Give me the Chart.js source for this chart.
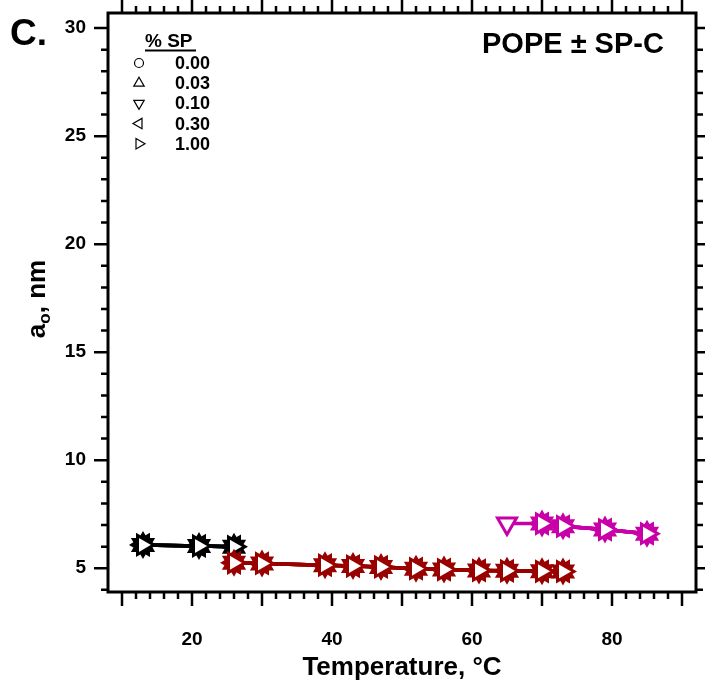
<!DOCTYPE html>
<html>
<head>
<meta charset="utf-8">
<script src="https://cdn.jsdelivr.net/npm/chart.js@4.4.0/dist/chart.umd.min.js"></script>
<style>
  html, body { margin: 0; padding: 0; background: #fff; }
  #wrap { width: 705px; height: 687px; }
</style>
</head>
<body>
<div id="wrap"><canvas id="aoChart"></canvas></div>
<script>
// % SP-C levels and their markers
const spLevels = ['0.00', '0.03', '0.10', '0.30', '1.00'];
const spStyles = ['circle', 'triangle', 'triangle', 'triangle', 'triangle'];
const spRotations = [0, 0, 180, 270, 90];

// temperature (°C) vs a_o (nm), one pair per phase
const blackTemps = [13, 21, 26];
const blackA0 = [6.08, 6.03, 6.0];
const redTemps = [26, 30, 39, 43, 47, 52, 56, 61, 65, 70, 73];
const redA0 = [5.25, 5.22, 5.14, 5.1, 5.06, 4.98, 4.94, 4.9, 4.88, 4.86, 4.85];
const magentaTemps = [70, 73, 79, 85];
const magentaA0 = [7.07, 6.94, 6.79, 6.6];
// only the 0.10 % SP sample shows this point
const extraTemps = [65];
const extraA0 = [7.07];

const xTickLabels = [20, 40, 60, 80];
const yTickLabels = [5, 10, 15, 20, 25, 30];

const FONT = '"Liberation Sans", Arial, Helvetica, sans-serif';

const phases = [
    { temps: blackTemps, a0: blackA0, color: '#000000' },
    { temps: redTemps, a0: redA0, color: '#990000' },
    { temps: magentaTemps, a0: magentaA0, color: '#c800a8' }
];

const datasets = [];
phases.forEach((ph, p) => {
    spLevels.forEach((lvl, i) => {
        let pts = ph.temps.map((t, k) => ({ x: t, y: ph.a0[k], extra: false }));
        if (p === 2 && lvl === '0.10') {
            pts = extraTemps.map((t, k) => ({ x: t, y: extraA0[k], extra: true })).concat(pts);
        }
        const fill = pts.map(pt => (lvl === '1.00' || pt.extra) ? '#ffffff' : ph.color);
        datasets.push({
            label: lvl + ' % SP',
            data: pts,
            borderColor: ph.color,
            borderWidth: 3.5,
            pointStyle: spStyles[i],
            pointRotation: spRotations[i],
            pointRadius: spStyles[i] === 'circle' ? 7.5 : 11,
            pointBorderWidth: 3,
            pointBorderColor: ph.color,
            pointBackgroundColor: fill,
            order: (2 - p) * 10 + (spLevels.length - 1 - i)
        });
    });
});

// drop the auto padding chart.js adds for edge labels
function noPad(s) {
    s.paddingLeft = 0; s.paddingRight = 0; s.paddingTop = 0; s.paddingBottom = 0;
}

// frame, ticks and free text
const framePlugin = {
    id: 'frame',
    afterDraw(chart) {
        const { ctx, chartArea: a, scales } = chart;
        ctx.save();
        ctx.strokeStyle = '#000';
        ctx.lineWidth = 3;
        ctx.strokeRect(a.left, a.top, a.right - a.left, a.bottom - a.top);

        ctx.lineWidth = 2.5;
        ctx.beginPath();
        scales.x.ticks.forEach(t => {
            const v = t.value;
            if (v < 10 || v > 90) return;
            const len = v % 10 === 0 ? 14 : 7;
            const px = scales.x.getPixelForValue(v);
            ctx.moveTo(px, a.bottom); ctx.lineTo(px, a.bottom + len);
            ctx.moveTo(px, a.top); ctx.lineTo(px, a.top - len);
        });
        scales.y.ticks.forEach(t => {
            const v = t.value;
            if (v < 4 || v > 30 || !Number.isInteger(v)) return;
            const len = v % 5 === 0 ? 14 : 7;
            const py = scales.y.getPixelForValue(v);
            ctx.moveTo(a.left, py); ctx.lineTo(a.left - len, py);
            ctx.moveTo(a.right, py); ctx.lineTo(a.right + len, py);
        });
        ctx.stroke();

        ctx.fillStyle = '#000';
        ctx.textBaseline = 'alphabetic';
        ctx.textAlign = 'left';
        ctx.font = 'bold 37px ' + FONT;
        ctx.fillText('C.', 10, 45);
        ctx.font = 'bold 29px ' + FONT;
        ctx.fillText('POPE ± SP-C', 482, 53);

        // legend
        ctx.font = 'bold 19px ' + FONT;
        ctx.fillText('% SP', 145, 47);
        ctx.fillRect(145, 49.5, 51, 2);
        ctx.font = 'bold 18px ' + FONT;
        spLevels.forEach((lvl, i) => {
            const base = 69 + i * 20.2;
            ctx.fillStyle = '#000';
            ctx.fillText(lvl, 175, base);
            ctx.fillStyle = '#fff';
            ctx.strokeStyle = '#000';
            ctx.lineWidth = 1.2;
            Chart.helpers.drawPoint(ctx, {
                pointStyle: spStyles[i],
                rotation: spRotations[i],
                radius: spStyles[i] === 'circle' ? 4.5 : 6,
                borderWidth: 1.2
            }, 139, base - 6);
        });

        // y title with subscript
        ctx.fillStyle = '#000';
        ctx.translate(45, 299);
        ctx.rotate(-Math.PI / 2);
        const big = 'bold 26px ' + FONT, small = 'bold 17px ' + FONT;
        ctx.font = big; const wa = ctx.measureText('a').width;
        ctx.font = small; const wo = ctx.measureText('o').width;
        ctx.font = big; const wr = ctx.measureText(', nm').width;
        const x0 = -(wa + wo + wr) / 2;
        ctx.fillText('a', x0, 0);
        ctx.font = small;
        ctx.fillText('o', x0 + wa, 5);
        ctx.font = big;
        ctx.fillText(', nm', x0 + wa + wo, 0);
        ctx.restore();
    }
};

const noTicks = { display: false };
const ctx = document.getElementById('aoChart').getContext('2d');
new Chart(ctx, {
    type: 'line',
    data: { datasets: datasets },
    options: {
        responsive: true,
        maintainAspectRatio: false,
        animation: false,
        events: [],
        layout: { padding: 0, autoPadding: false },
        plugins: { legend: { display: false }, tooltip: { enabled: false } },
        scales: {
            x: {
                type: 'linear', position: 'bottom', min: 8, max: 92,
                grid: { display: false, drawTicks: true, tickLength: 14 },
                border: { display: false },
                ticks: {
                    stepSize: 2, autoSkip: false, maxRotation: 0, padding: 22,
                    includeBounds: false,
                    color: '#000', font: { family: FONT, size: 19, weight: 'bold' },
                    callback: v => xTickLabels.includes(v) ? v : ''
                },
                title: {
                    display: true, text: 'Temperature, °C', color: '#000',
                    font: { family: FONT, size: 26, weight: 'bold' },
                    padding: { top: 0, bottom: 4 }
                },
                afterFit: s => { s.height = 95; noPad(s); }
            },
            x2: {
                type: 'linear', position: 'top', min: 8, max: 92,
                grid: { display: false }, border: { display: false }, ticks: noTicks,
                afterFit: s => { s.height = 13; noPad(s); }
            },
            y: {
                type: 'linear', position: 'left', min: 3.9, max: 30.7,
                grid: { display: false, drawTicks: true, tickLength: 14 },
                border: { display: false },
                ticks: {
                    stepSize: 1, autoSkip: false, padding: 8,
                    includeBounds: false,
                    color: '#000', font: { family: FONT, size: 19, weight: 'bold' },
                    callback: v => yTickLabels.includes(v) ? v : ''
                },
                afterFit: s => { s.width = 108; noPad(s); }
            },
            y2: {
                type: 'linear', position: 'right', min: 3.9, max: 30.7,
                grid: { display: false }, border: { display: false }, ticks: noTicks,
                afterFit: s => { s.width = 9; noPad(s); }
            }
        }
    },
    plugins: [framePlugin]
});
</script>
</body>
</html>
